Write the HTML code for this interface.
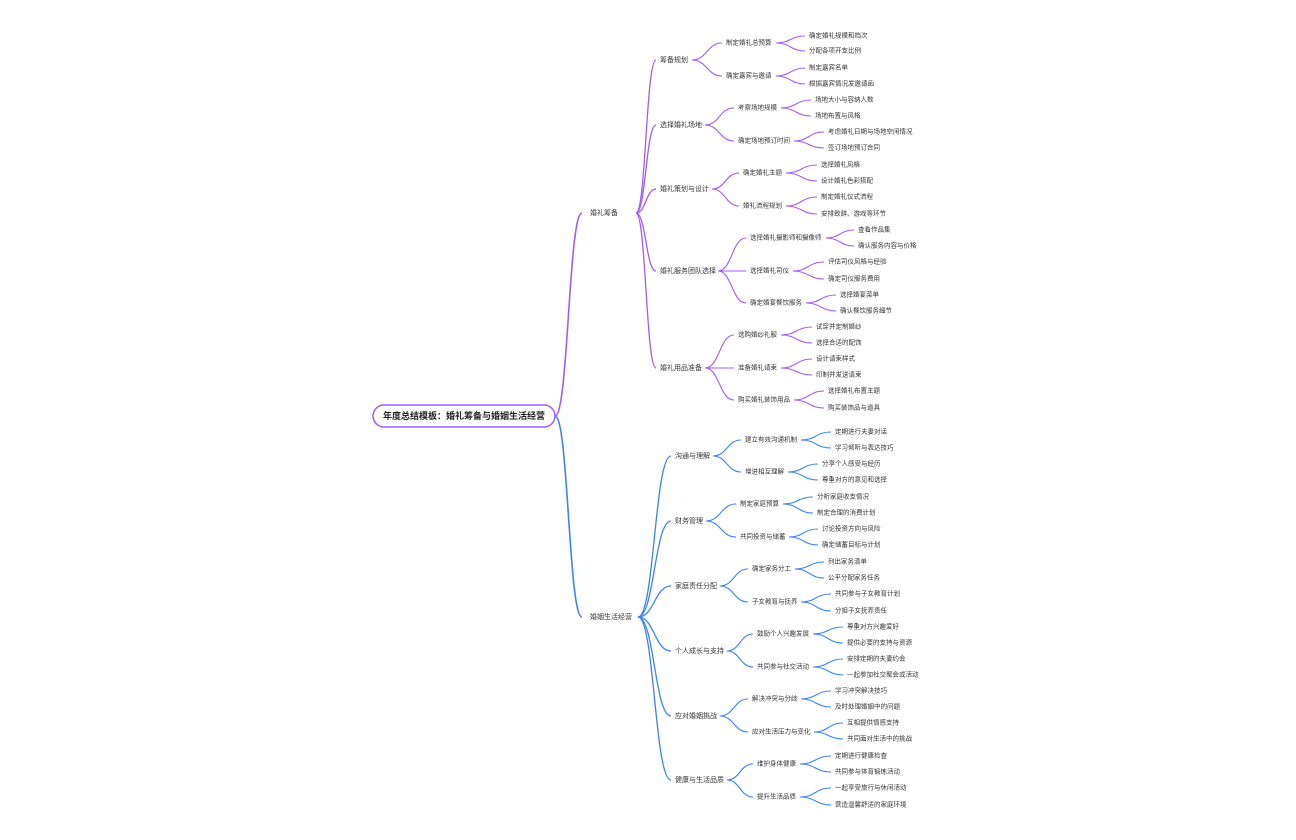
<!DOCTYPE html>
<html><head><meta charset="utf-8"><style>
html,body{margin:0;padding:0;background:#fff;width:1296px;height:840px;overflow:hidden}
svg text{font-family:"Liberation Sans","Noto Sans CJK SC",sans-serif;fill:#333;dominant-baseline:middle}
.l2{font-size:7px}.l3{font-size:6.5px}.l4{font-size:6.5px}
</style></head><body>
<svg id="s" width="1296" height="840" viewBox="0 0 1296 840">
<g id="paths" fill="none"></g>
<rect x="373" y="405" width="182" height="22" rx="11" fill="#fff" stroke="#9f5cf5" stroke-width="1.5"/>
<text x="464" y="416.5" text-anchor="middle" style="font-size:9px;font-weight:bold;fill:#222">年度总结模板：婚礼筹备与婚姻生活经营</text>

<text class="l2" x="590" y="213">婚礼筹备</text>
<text class="l2" x="590" y="617">婚姻生活经营</text>

<text class="l2" x="660" y="60">筹备规划</text>
<text class="l2" x="660" y="125">选择婚礼场地</text>
<text class="l2" x="660" y="189">婚礼策划与设计</text>
<text class="l2" x="660" y="271">婚礼服务团队选择</text>
<text class="l2" x="660" y="368">婚礼用品准备</text>

<text class="l3" x="726" y="43">制定婚礼总预算</text>
<text class="l3" x="726" y="76">确定嘉宾与邀请</text>
<text class="l3" x="738" y="108">考察场地规模</text>
<text class="l3" x="738" y="141">确定场地预订时间</text>
<text class="l3" x="743" y="173">确定婚礼主题</text>
<text class="l3" x="743" y="206">婚礼流程规划</text>
<text class="l3" x="750" y="238">选择婚礼摄影师和摄像师</text>
<text class="l3" x="750" y="271">选择婚礼司仪</text>
<text class="l3" x="750" y="303">确定婚宴餐饮服务</text>
<text class="l3" x="738" y="335">选购婚纱礼服</text>
<text class="l3" x="738" y="368">准备婚礼请柬</text>
<text class="l3" x="738" y="400">购买婚礼装饰用品</text>

<text class="l4" x="809" y="36">确定婚礼规模和档次</text>
<text class="l4" x="809" y="51">分配各项开支比例</text>
<text class="l4" x="809" y="68">制定嘉宾名单</text>
<text class="l4" x="809" y="84">根据嘉宾情况发邀请函</text>
<text class="l4" x="815" y="100">场地大小与容纳人数</text>
<text class="l4" x="815" y="116">场地布置与风格</text>
<text class="l4" x="828" y="132">考虑婚礼日期与场地空闲情况</text>
<text class="l4" x="828" y="148">签订场地预订合同</text>
<text class="l4" x="821" y="165">选择婚礼风格</text>
<text class="l4" x="821" y="181">设计婚礼色彩搭配</text>
<text class="l4" x="821" y="197">制定婚礼仪式流程</text>
<text class="l4" x="821" y="214">安排致辞、游戏等环节</text>
<text class="l4" x="858" y="230">查看作品集</text>
<text class="l4" x="858" y="246">确认服务内容与价格</text>
<text class="l4" x="828" y="262">评估司仪风格与经验</text>
<text class="l4" x="828" y="279">确定司仪服务费用</text>
<text class="l4" x="840" y="295">选择婚宴菜单</text>
<text class="l4" x="840" y="311">确认餐饮服务细节</text>
<text class="l4" x="816" y="327">试穿并定制婚纱</text>
<text class="l4" x="816" y="343">选择合适的配饰</text>
<text class="l4" x="816" y="359">设计请柬样式</text>
<text class="l4" x="816" y="375">印制并发送请柬</text>
<text class="l4" x="828" y="391">选择婚礼布置主题</text>
<text class="l4" x="828" y="408">购买装饰品与道具</text>

<text class="l2" x="675" y="456">沟通与理解</text>
<text class="l2" x="675" y="521">财务管理</text>
<text class="l2" x="675" y="586">家庭责任分配</text>
<text class="l2" x="675" y="651">个人成长与支持</text>
<text class="l2" x="675" y="716">应对婚姻挑战</text>
<text class="l2" x="675" y="780">健康与生活品质</text>

<text class="l3" x="745" y="440">建立有效沟通机制</text>
<text class="l3" x="745" y="472">增进相互理解</text>
<text class="l3" x="740" y="504">制定家庭预算</text>
<text class="l3" x="740" y="537">共同投资与储蓄</text>
<text class="l3" x="752" y="569">确定家务分工</text>
<text class="l3" x="752" y="602">子女教育与抚养</text>
<text class="l3" x="757" y="634">鼓励个人兴趣发展</text>
<text class="l3" x="757" y="667">共同参与社交活动</text>
<text class="l3" x="752" y="699">解决冲突与分歧</text>
<text class="l3" x="752" y="732">应对生活压力与变化</text>
<text class="l3" x="757" y="764">维护身体健康</text>
<text class="l3" x="757" y="797">提升生活品质</text>

<text class="l4" x="835" y="432">定期进行夫妻对话</text>
<text class="l4" x="835" y="448">学习倾听与表达技巧</text>
<text class="l4" x="822" y="464">分享个人感受与经历</text>
<text class="l4" x="822" y="480">尊重对方的意见和选择</text>
<text class="l4" x="817" y="497">分析家庭收支情况</text>
<text class="l4" x="817" y="513">制定合理的消费计划</text>
<text class="l4" x="822" y="529">讨论投资方向与风险</text>
<text class="l4" x="822" y="545">确定储蓄目标与计划</text>
<text class="l4" x="828" y="562">列出家务清单</text>
<text class="l4" x="828" y="578">公平分配家务任务</text>
<text class="l4" x="835" y="594">共同参与子女教育计划</text>
<text class="l4" x="835" y="611">分担子女抚养责任</text>
<text class="l4" x="847" y="627">尊重对方兴趣爱好</text>
<text class="l4" x="847" y="643">提供必要的支持与资源</text>
<text class="l4" x="847" y="659">安排定期的夫妻约会</text>
<text class="l4" x="847" y="675">一起参加社交聚会或活动</text>
<text class="l4" x="835" y="691">学习冲突解决技巧</text>
<text class="l4" x="835" y="707">及时处理婚姻中的问题</text>
<text class="l4" x="847" y="723">互相提供情感支持</text>
<text class="l4" x="847" y="739">共同面对生活中的挑战</text>
<text class="l4" x="835" y="756">定期进行健康检查</text>
<text class="l4" x="835" y="772">共同参与体育锻炼活动</text>
<text class="l4" x="835" y="788">一起享受旅行与休闲活动</text>
<text class="l4" x="835" y="805">营造温馨舒适的家庭环境</text>
</svg>
<script>
var P='#a259f5',B='#3b82f6',g=document.getElementById('paths'),out='';
function c(x0,y0,x1,y1,col,w){var m=(x0+x1)/2;out+='<path d="M'+x0+' '+y0+' C'+m+' '+y0+' '+m+' '+y1+' '+x1+' '+y1+'" stroke="'+col+'" stroke-width="'+w+'"/>';}
c(555,416,582,213,P,1.6);c(555,416,582,617,B,1.6);
[60,125,189,271,368].forEach(function(y){c(636,213,656,y,P,1.3)});
[456,521,586,651,716,780].forEach(function(y){c(638,617,671,y,B,1.3)});
// L3 purple: [x0,y0,x1,[ys]]
[[692,60,722,[43,76]],[705,125,734,[108,141]],[712,189,739,[173,206]],[718,271,746,[238,271,303]],[705,368,734,[335,368,400]],
 [776,43,805,[36,51]],[776,76,805,[68,84]],[781,108,811,[100,116]],[794,141,824,[132,148]],[786,173,817,[165,181]],[786,206,817,[197,214]],
 [826,238,854,[230,246]],[793,271,824,[262,279]],[806,303,836,[295,311]],[781,335,812,[327,343]],[781,368,812,[359,375]],[794,400,824,[391,408]]
].forEach(function(a){a[3].forEach(function(y){c(a[0],a[1],a[2],y,P,1.1)})});
[[713,456,741,[440,472]],[706,521,736,[504,537]],[720,586,748,[569,602]],[727,651,753,[634,667]],[720,716,748,[699,732]],[727,780,753,[764,797]],
 [801,440,831,[432,448]],[788,472,818,[464,480]],[783,504,813,[497,513]],[789,537,818,[529,545]],[795,569,824,[562,578]],[801,602,831,[594,611]],
 [813,634,843,[627,643]],[813,667,843,[659,675]],[801,699,831,[691,707]],[814,732,843,[723,739]],[800,764,831,[756,772]],[800,797,831,[788,805]]
].forEach(function(a){a[3].forEach(function(y){c(a[0],a[1],a[2],y,B,1.1)})});
g.innerHTML=out;
</script>
</body></html>
